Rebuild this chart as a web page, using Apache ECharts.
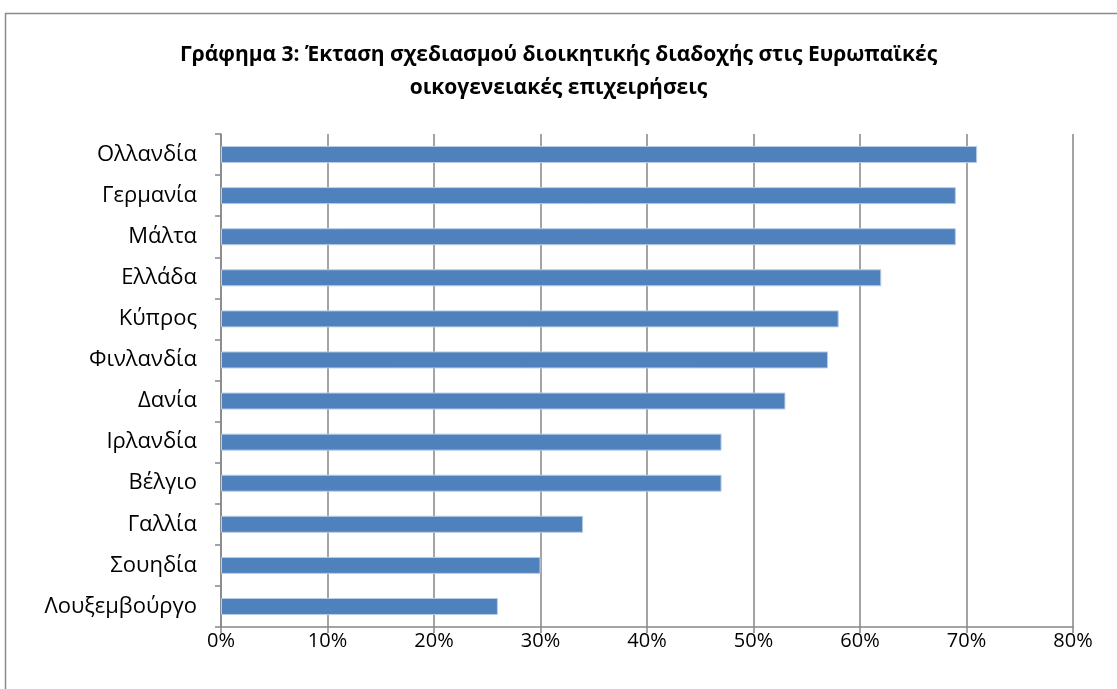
<!DOCTYPE html>
<html><head><meta charset="utf-8">
<script src="https://cdn.jsdelivr.net/npm/echarts@6/dist/echarts.min.js"></script>
<style>html,body{margin:0;padding:0;background:#fff}#c{width:1117px;height:689px}</style>
</head><body><div id="c"></div>
<script>
const titleText = 'Γράφημα 3: Έκταση σχεδιασμού διοικητικής διαδοχής στις Ευρωπαϊκές\nοικογενειακές επιχειρήσεις';
const categories = ['Λουξεμβούργο','Σουηδία','Γαλλία','Βέλγιο','Ιρλανδία','Δανία','Φινλανδία','Κύπρος','Ελλάδα','Μάλτα','Γερμανία','Ολλανδία'];
const values = [26,30,34,47,47,53,57,58,62,69,69,71];
const xTicks = [0,10,20,30,40,50,60,70,80];

const chart = echarts.init(document.getElementById('c'));
chart.setOption({
  animation:false,
  backgroundColor:'#fff',
  graphic:[{type:'rect',shape:{x:5.5,y:13.5,width:1200,height:800},style:{fill:'none',stroke:'#8a8a8a',lineWidth:1.5},z:-1}],
  title:{text:titleText,left:'center',top:34,textStyle:{fontFamily:'Open Sans',fontWeight:'bold',fontSize:21,lineHeight:33,color:'#000'}},
  grid:{left:221,right:44,top:134,bottom:62,containLabel:false},
  xAxis:{type:'value',min:0,max:80,interval:10,
    axisLine:{show:true,lineStyle:{color:'#868686',width:1.5}},
    axisTick:{show:true,length:6,lineStyle:{color:'#868686',width:1.5}},
    axisLabel:{formatter:v=>xTicks.includes(v)?v+'%':'',fontFamily:'Open Sans',fontSize:20,color:'#000',margin:4},
    splitLine:{show:true,lineStyle:{color:'#868686',width:1.5}}},
  yAxis:{type:'category',data:categories,
    axisLine:{show:true,lineStyle:{color:'#868686',width:1.5}},
    axisTick:{show:true,length:6,alignWithLabel:false,lineStyle:{color:'#868686',width:1.5}},
    axisLabel:{fontFamily:'Open Sans',fontSize:22,color:'#000',margin:24}},
  series:[{type:'bar',data:values,barWidth:17,itemStyle:{color:'#4F81BD',borderColor:'#B9CDE5',borderWidth:1}}]
});
</script></body></html>
